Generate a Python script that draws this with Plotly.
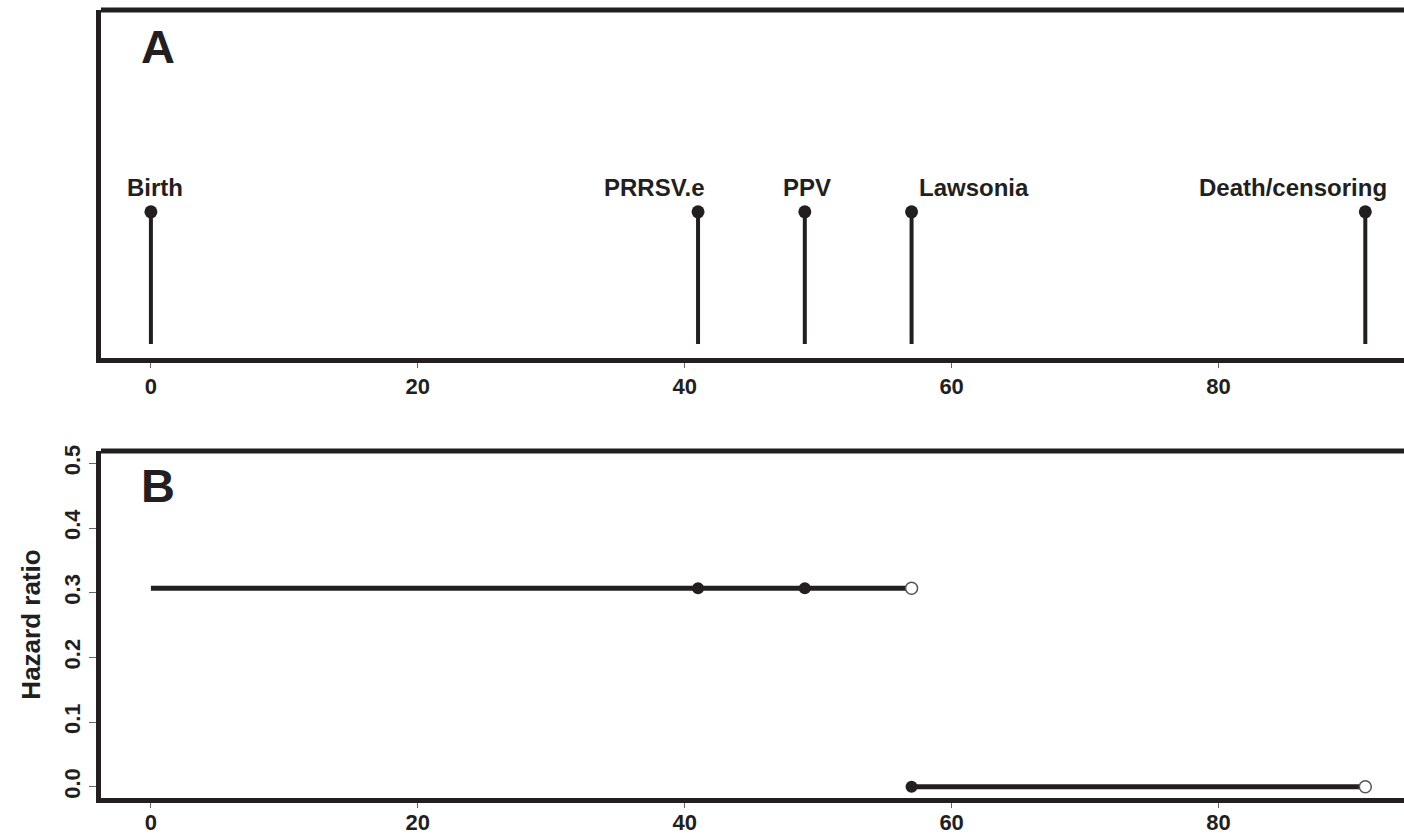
import plotly.graph_objects as go
from plotly.subplots import make_subplots

# Panel A: events on the time line (days)
event_names = ["Birth", "PRRSV.e", "PPV", "Lawsonia", "Death/censoring"]
event_days = [0, 41, 49, 57, 91]
label_shift = [4, -44, 2, 62, -72]   # pixel offsets of the labels

# Panel B: piecewise hazard ratio
seg_start = [0, 57]
seg_end = [57, 91]
seg_hr = [0.307, 0.0]
filled_x = [41, 49, 57]
filled_y = [0.307, 0.307, 0.0]
open_x = [57, 91]
open_y = [0.307, 0.0]

x_ticks = [0, 20, 40, 60, 80]
y_ticks = [0.0, 0.1, 0.2, 0.3, 0.4, 0.5]

W, H = 1404, 835
FONT = "Liberation Sans, Arial, sans-serif"
INK = "#231f20"

fig = make_subplots(rows=2, cols=1)

# ---- panel A ----
for d in event_days:
    fig.add_trace(go.Scatter(x=[d, d], y=[0.04, 0.42], mode="lines",
                             line=dict(color=INK, width=4), showlegend=False,
                             hoverinfo="skip"), row=1, col=1)
fig.add_trace(go.Scatter(x=event_days, y=[0.42] * len(event_days), mode="markers",
                         marker=dict(color=INK, size=13), showlegend=False),
              row=1, col=1)
for name, d, s in zip(event_names, event_days, label_shift):
    fig.add_annotation(x=d, y=0.42, xref="x", yref="y", text=name, showarrow=False,
                       yanchor="bottom", yshift=9, xshift=s,
                       font=dict(family=FONT, size=24, color=INK, weight="bold"))

# ---- panel B ----
for a, b, h in zip(seg_start, seg_end, seg_hr):
    fig.add_trace(go.Scatter(x=[a, b], y=[h, h], mode="lines",
                             line=dict(color=INK, width=5), showlegend=False),
                  row=2, col=1)
fig.add_trace(go.Scatter(x=filled_x, y=filled_y, mode="markers",
                         marker=dict(color=INK, size=12), showlegend=False),
              row=2, col=1)
fig.add_trace(go.Scatter(x=open_x, y=open_y, mode="markers",
                         marker=dict(color="white", size=12,
                                     line=dict(color="#555555", width=1.5)),
                         showlegend=False),
              row=2, col=1)

xdom = [101 / W, 1.0]
ydomA = [1 - 358 / H, 1 - 10 / H]
ydomB = [1 - 798 / H, 1 - 451 / H]
xr = [-3.74, 93.9]

tickfont = dict(family=FONT, size=22, color=INK, weight="bold")
xcommon = dict(range=xr, domain=xdom, showgrid=False, zeroline=False,
               showline=True, linecolor=INK, linewidth=5, automargin=False,
               tickvals=x_ticks, ticks="outside", ticklen=5, tickwidth=1,
               tickcolor="#666666", tickfont=tickfont)
fig.update_xaxes(**xcommon, ticklabelstandoff=0, row=1, col=1)
fig.update_xaxes(**xcommon, ticklabelstandoff=-4, row=2, col=1)

fig.update_yaxes(range=[0, 1], domain=ydomA, showgrid=False, zeroline=False,
                 showline=True, linecolor=INK, linewidth=5, showticklabels=False,
                 ticks="", automargin=False, row=1, col=1)
fig.update_yaxes(range=[-0.0173, 0.519], domain=ydomB, showgrid=False,
                 zeroline=False, showline=True, linecolor=INK, linewidth=5,
                 tickvals=y_ticks, tickformat=".1f", ticks="outside", ticklen=7,
                 tickwidth=1, tickcolor="#666666", tickangle=-90, tickfont=tickfont,
                 ticklabelstandoff=0, automargin=False,
                 title=dict(text="Hazard ratio", standoff=14,
                            font=dict(family=FONT, size=26, color=INK, weight="bold")),
                 row=2, col=1)

# top border of each box
for top in (ydomA[1], ydomB[1]):
    fig.add_shape(type="line", xref="paper", yref="paper", x0=xdom[0], x1=1.05,
                  y0=top, y1=top, line=dict(color=INK, width=5))

# panel letters
fig.add_annotation(x=158 / W, y=1 - 46 / H, xref="paper", yref="paper", text="A",
                   showarrow=False, xanchor="center", yanchor="middle",
                   font=dict(family=FONT, size=47, color=INK, weight="bold"))
fig.add_annotation(x=158 / W, y=1 - 486 / H, xref="paper", yref="paper", text="B",
                   showarrow=False, xanchor="center", yanchor="middle",
                   font=dict(family=FONT, size=47, color=INK, weight="bold"))

fig.update_layout(width=W, height=H, margin=dict(l=0, r=0, t=0, b=0),
                  paper_bgcolor="white", plot_bgcolor="white", showlegend=False)

fig.write_html("out.html", config={"displayModeBar": False},
               post_script="document.body.style.margin='0';document.body.style.overflow='hidden';")
